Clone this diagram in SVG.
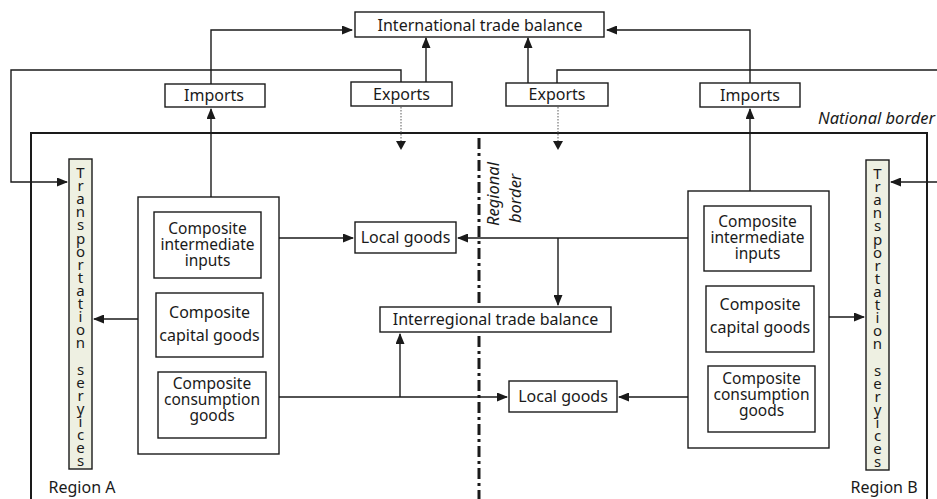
<svg xmlns="http://www.w3.org/2000/svg" width="937" height="499" viewBox="0 0 937 499">
<defs>
<marker id="arr" markerUnits="userSpaceOnUse" markerWidth="11" markerHeight="9" refX="10" refY="4.5" orient="auto">
<path d="M0,0 L11,4.5 L0,9 z" fill="#1a1a1a"/>
</marker>
<style>
.box{fill:#fff;stroke:#1a1a1a;stroke-width:1.4}
.tb{fill:#eef0e2;stroke:#1a1a1a;stroke-width:1.4}
.t{font-family:"Noto Sans","Open Sans",sans-serif;font-size:16px;fill:#1a1a1a;text-anchor:middle}
.ti{font-family:"Noto Sans","Open Sans",sans-serif;font-size:15.5px;fill:#1a1a1a;text-anchor:middle}
.v{font-family:"Noto Sans","Open Sans",sans-serif;font-size:15px;fill:#1a1a1a;writing-mode:vertical-rl;text-orientation:upright;letter-spacing:-6.9px}
.it{font-family:"Noto Sans","Open Sans",sans-serif;font-size:16.5px;fill:#1a1a1a;font-style:italic}
.c{fill:none;stroke:#1a1a1a;stroke-width:1.4}
.d{fill:none;stroke:#777;stroke-width:1.2;stroke-dasharray:1.5 1.5}
</style>
</defs>
<rect x="0" y="0" width="937" height="499" fill="#fff"/>

<g id="national-border">
<rect x="31" y="133" width="896" height="380" fill="none" stroke="#1a1a1a" stroke-width="2"/>
<text class="it" x="935" y="124" text-anchor="end">National border</text>
</g>

<g id="regional-border">
<line x1="479" y1="138" x2="479" y2="499" stroke="#1a1a1a" stroke-width="3" stroke-dasharray="11 4 3 4"/>
<text class="it" transform="translate(499,226) rotate(-90)">Regional</text>
<text class="it" transform="translate(521,223) rotate(-90)">border</text>
</g>

<g id="itb">
<rect class="box" x="355" y="12" width="249" height="25"/>
<text class="t" x="480" y="30.5" font-size="16.5">International trade balance</text>
</g>
<g id="imports-a">
<rect class="box" x="165" y="84" width="100" height="23"/>
<text class="t" x="214" y="101">Imports</text>
</g>
<g id="exports-a">
<rect class="box" x="351" y="82" width="101" height="24"/>
<text class="t" x="401.5" y="99.5">Exports</text>
</g>
<g id="exports-b">
<rect class="box" x="506" y="83" width="102" height="23"/>
<text class="t" x="557" y="100">Exports</text>
</g>
<g id="imports-b">
<rect class="box" x="700" y="83" width="100" height="24"/>
<text class="t" x="750" y="100.5">Imports</text>
</g>

<g id="transport-a">
<rect class="tb" x="69" y="159" width="23" height="310"/>
<text class="v" x="80.5" y="162">Transportation seryices</text>
</g>
<g id="transport-b">
<rect class="tb" x="866" y="160" width="23" height="310"/>
<text class="v" x="877.5" y="163">Transportation seryices</text>
</g>

<g id="composite-a">
<rect class="box" x="138" y="197" width="141" height="257"/>
<rect class="box" x="154" y="212" width="107" height="66"/>
<text class="ti"><tspan x="207.5" y="234">Composite</tspan><tspan x="207.5" dy="16">intermediate</tspan><tspan x="207.5" dy="16">inputs</tspan></text>
<rect class="box" x="156" y="293" width="107" height="64"/>
<text class="t"><tspan x="209.5" y="318">Composite</tspan><tspan x="209.5" dy="22.5">capital goods</tspan></text>
<rect class="box" x="158" y="372" width="108" height="66"/>
<text class="ti"><tspan x="212" y="389">Composite</tspan><tspan x="212" dy="16">consumption</tspan><tspan x="212" dy="16">goods</tspan></text>
</g>

<g id="composite-b">
<rect class="box" x="688" y="191" width="141" height="257"/>
<rect class="box" x="704" y="206" width="107" height="65"/>
<text class="ti"><tspan x="757.5" y="227">Composite</tspan><tspan x="757.5" dy="16">intermediate</tspan><tspan x="757.5" dy="16">inputs</tspan></text>
<rect class="box" x="706" y="286" width="108" height="66"/>
<text class="t"><tspan x="760" y="310">Composite</tspan><tspan x="760" dy="22.5">capital goods</tspan></text>
<rect class="box" x="708" y="366" width="107" height="66"/>
<text class="ti"><tspan x="761.5" y="384">Composite</tspan><tspan x="761.5" dy="16">consumption</tspan><tspan x="761.5" dy="16">goods</tspan></text>
</g>

<g id="local-goods-a">
<rect class="box" x="355" y="222" width="101" height="31"/>
<text class="t" x="405.5" y="243">Local goods</text>
</g>
<g id="interregional">
<rect class="box" x="380" y="307" width="231" height="25"/>
<text class="t" x="495.5" y="325">Interregional trade balance</text>
</g>
<g id="local-goods-b">
<rect class="box" x="509" y="381" width="108" height="31"/>
<text class="t" x="563" y="402">Local goods</text>
</g>

<g id="region-labels">
<text class="t" x="82" y="493">Region A</text>
<text class="t" x="884" y="493">Region B</text>
</g>

<g id="connectors">
<path class="c" d="M211,84 V30 H352" marker-end="url(#arr)"/>
<path class="c" d="M750,83 V30 H607" marker-end="url(#arr)"/>
<path class="c" d="M426,82 V38" marker-end="url(#arr)"/>
<path class="c" d="M528,83 V38" marker-end="url(#arr)"/>
<path class="c" d="M401,82 V70 H11 V182 H67" marker-end="url(#arr)"/>
<path class="c" d="M557,83 V70 H937"/>
<path class="c" d="M937,182 H891" marker-end="url(#arr)"/>
<path class="d" d="M401,107 V141"/>
<path d="M396,141 L406,141 L401,150 z" fill="#1a1a1a"/>
<path class="d" d="M558,107 V141"/>
<path d="M553,141 L563,141 L558,150 z" fill="#1a1a1a"/>
<path class="c" d="M211,197 V109" marker-end="url(#arr)"/>
<path class="c" d="M750,191 V109" marker-end="url(#arr)"/>
<path class="c" d="M279,238 H353" marker-end="url(#arr)"/>
<path class="c" d="M688,238 H458" marker-end="url(#arr)"/>
<path class="c" d="M558,238 V305" marker-end="url(#arr)"/>
<path class="c" d="M279,397 H507" marker-end="url(#arr)"/>
<path class="c" d="M400,397 V334" marker-end="url(#arr)"/>
<path class="c" d="M688,397 H619" marker-end="url(#arr)"/>
<path class="c" d="M138,319 H94" marker-end="url(#arr)"/>
<path class="c" d="M829,317 H864" marker-end="url(#arr)"/>
</g>
</svg>
